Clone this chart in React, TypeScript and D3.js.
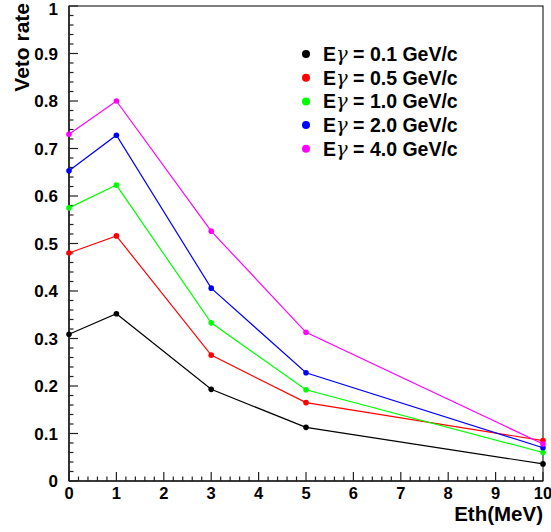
import React from "react";
import * as d3 from "d3";

const thresholds = [0, 1, 3, 5, 10];
const seriesLabels = ["0.1", "0.5", "1.0", "2.0", "4.0"];
const seriesColors = ["#000000", "#ff0000", "#00ff00", "#0000ff", "#ff00ff"];
const e01 = [0.309, 0.352, 0.193, 0.113, 0.036];
const e05 = [0.48, 0.516, 0.265, 0.165, 0.085];
const e10 = [0.575, 0.623, 0.333, 0.192, 0.06];
const e20 = [0.653, 0.728, 0.406, 0.228, 0.07];
const e40 = [0.73, 0.8, 0.526, 0.313, 0.078];
const seriesValues = [e01, e05, e10, e20, e40];
const xTicks = [0, 1, 2, 3, 4, 5, 6, 7, 8, 9, 10];
const yTicks = [0, 0.1, 0.2, 0.3, 0.4, 0.5, 0.6, 0.7, 0.8, 0.9, 1];

const W = 551;
const H = 532;
const L = 69, R = 543, T = 6, B = 481;
const FONT = "'Liberation Sans', Arial, Helvetica, sans-serif";

export default function App() {
  const x = d3.scaleLinear().domain([0, 10]).range([L, R]);
  const y = d3.scaleLinear().domain([0, 1]).range([B, T]);
  const line = d3
    .line<[number, number]>()
    .x((d) => x(d[0]))
    .y((d) => y(d[1]));

  const xMinor = d3.range(0, 10.0001, 0.2).filter((v) => Math.abs(v - Math.round(v)) > 1e-6);
  const yMinor = d3.range(0, 1.0001, 0.02).filter((v) => Math.abs(v * 10 - Math.round(v * 10)) > 1e-6);

  return (
    <svg
      width={W}
      height={H}
      style={{ position: "absolute", left: 0, top: 0, background: "#fff" }}
      fontFamily={FONT}
    >
      <rect x={0} y={0} width={W} height={H} fill="#fff" />
      {/* frame */}
      <rect x={L} y={T} width={R - L} height={B - T} fill="none" stroke="#000" strokeWidth={1} />
      {/* axes */}
      <line x1={L} x2={L} y1={T} y2={B} stroke="#222" strokeWidth={1.6} />
      <line x1={L} x2={R} y1={B} y2={B} stroke="#222" strokeWidth={1.6} />
      {/* y ticks */}
      {yTicks.map((v) => (
        <g key={"yt" + v}>
          <line x1={L} x2={L + 9} y1={y(v)} y2={y(v)} stroke="#222" strokeWidth={1.2} />
          <text
            x={58}
            y={Math.max(y(v), 9)}
            dy="0.36em"
            textAnchor="end"
            fontSize={17}
            fontWeight="bold"
          >
            {d3.format("~g")(v)}
          </text>
        </g>
      ))}
      {yMinor.map((v) => (
        <line key={"ym" + v} x1={L} x2={L + 4.5} y1={y(v)} y2={y(v)} stroke="#222" strokeWidth={1.2} />
      ))}
      {/* x ticks */}
      {xTicks.map((v) => (
        <g key={"xt" + v}>
          <line x1={x(v)} x2={x(v)} y1={B} y2={B - 9} stroke="#222" strokeWidth={1.2} />
          <text x={x(v)} y={499} textAnchor="middle" fontSize={16.5} fontWeight="bold">
            {v}
          </text>
        </g>
      ))}
      {xMinor.map((v) => (
        <line key={"xm" + v} x1={x(v)} x2={x(v)} y1={B} y2={B - 4.5} stroke="#222" strokeWidth={1.2} />
      ))}
      {/* axis titles */}
      <text
        transform={`translate(29,3) rotate(-90)`}
        textAnchor="end"
        fontSize={21}
        fontWeight="bold"
      >
        Veto rate
      </text>
      <text x={R} y={521} textAnchor="end" fontSize={20.5} fontWeight="bold">
        Eth(MeV)
      </text>
      {/* series */}
      {seriesValues.map((vals, i) => {
        const pts: [number, number][] = thresholds.map((t, j) => [t, vals[j]]);
        return (
          <g key={"s" + i}>
            <path d={line(pts) || ""} fill="none" stroke={seriesColors[i]} strokeWidth={1.2} />
            {pts.map((p, j) => (
              <circle key={j} cx={x(p[0])} cy={y(p[1])} r={2.8} fill={seriesColors[i]} />
            ))}
          </g>
        );
      })}
      {/* legend */}
      {seriesLabels.map((lab, i) => {
        const cy = 54 + i * 23.7;
        return (
          <g key={"lg" + i}>
            <circle cx={306} cy={cy} r={4} fill={seriesColors[i]} />
            <text x={323} y={cy} dy="0.36em" fontSize={19.5} fontWeight="bold">
              E
              <tspan fontFamily="'DejaVu Serif', serif" fontWeight="normal" fontStyle="italic">γ</tspan>
              {` = ${lab} GeV/c`}
            </text>
          </g>
        );
      })}
    </svg>
  );
}
